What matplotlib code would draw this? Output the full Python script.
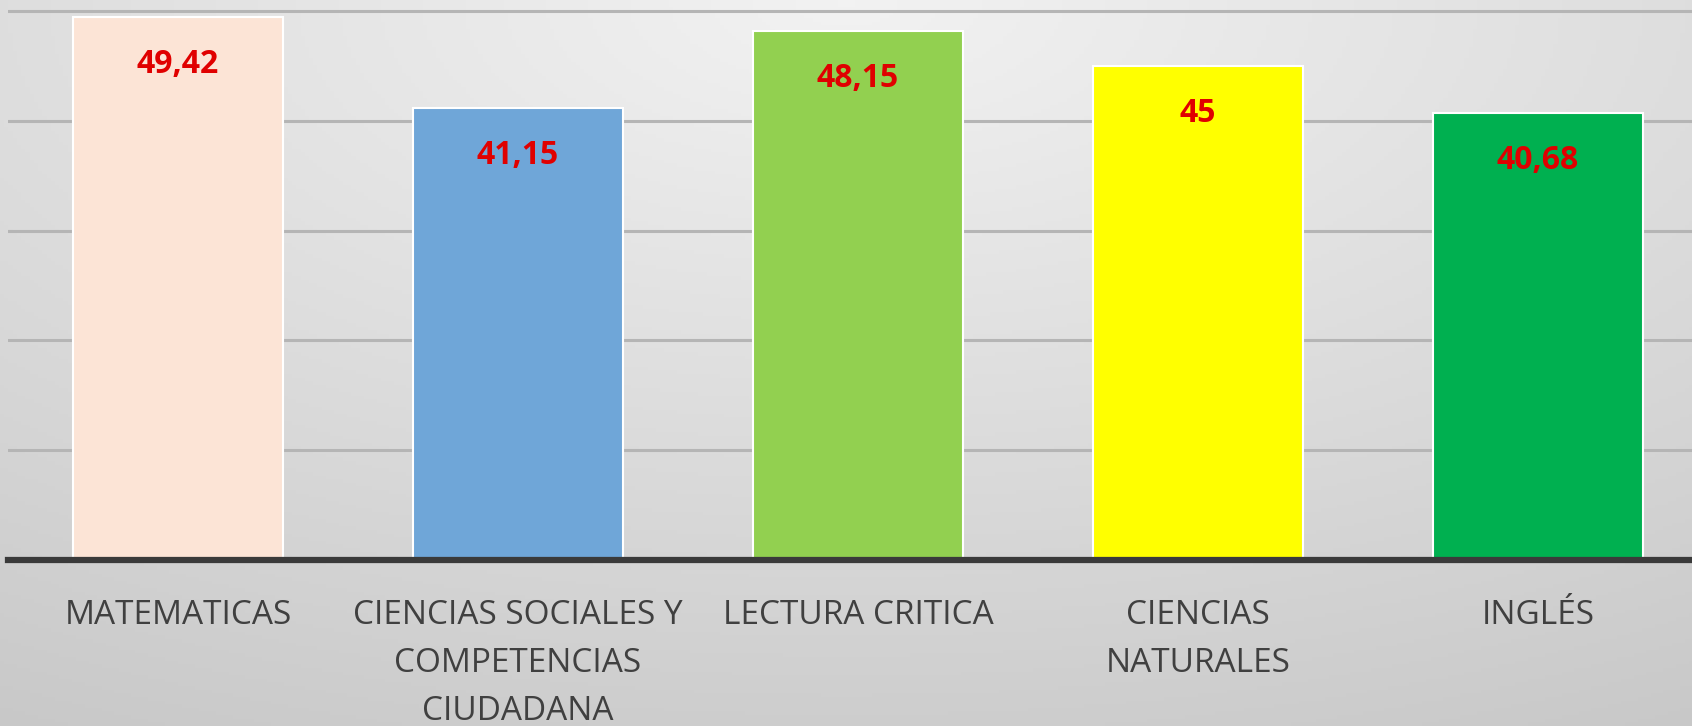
import numpy as np
import matplotlib.pyplot as plt
from matplotlib import font_manager

categorias = ["MATEMATICAS", "CIENCIAS SOCIALES Y\nCOMPETENCIAS\nCIUDADANA",
              "LECTURA CRITICA", "CIENCIAS\nNATURALES", "INGLÉS"]
puntajes = [49.42, 41.15, 48.15, 45, 40.68]
etiquetas = ["49,42", "41,15", "48,15", "45", "40,68"]
colores = ["#fce4d6", "#6fa6d8", "#92d050", "#ffff00", "#00b050"]

names = {f.name for f in font_manager.fontManager.ttflist}
fam = "Liberation Sans Narrow" if "Liberation Sans Narrow" in names else "Open Sans"
plt.rcParams['font.family'] = [fam, 'DejaVu Sans']

W, H = 1692, 726
fig = plt.figure(figsize=(W / 100, H / 100), dpi=100)

# gradient background
bg = fig.add_axes([0, 0, 1, 1])
yy, xx = np.mgrid[0:1:200j, 0:1:400j]
d = np.sqrt(((xx - 0.5) * 1.0) ** 2 + (yy * 0.9) ** 2)
g = 0.95 - 0.16 * d
bg.imshow(np.dstack([g, g, g]), extent=[0, 1, 0, 1], aspect='auto', origin='upper')
bg.axis('off')

ax = fig.add_axes([8 / W, 166 / H, 1700 / W, 560 / H])
ax.patch.set_alpha(0)
x = np.arange(len(categorias))
ax.bar(x, puntajes, width=0.62, color=colores, edgecolor='white', linewidth=1.5, zorder=3)
ax.set_xlim(-0.5, len(categorias) - 0.5)
ax.set_ylim(0, 51)
ax.set_yticks([10, 20, 30, 40, 50])
ax.yaxis.grid(True, color='#b5b5b5', linewidth=2.2, zorder=0)
ax.set_axisbelow(True)
ax.tick_params(axis='y', left=False, labelleft=False)
ax.set_xticks(x)
ax.set_xticklabels(categorias, fontsize=24, color='#404040', linespacing=1.6)
ax.tick_params(axis='x', length=0, pad=28)
for s in ['top', 'right', 'left']:
    ax.spines[s].set_visible(False)
ax.spines['bottom'].set_color('#3a3a3a')
ax.spines['bottom'].set_linewidth(4.5)
ax.spines['bottom'].set_zorder(4)

for xi, v, t in zip(x, puntajes, etiquetas):
    ax.annotate(t, (xi, v), xytext=(0, -34), textcoords='offset points',
                ha='center', va='center', fontsize=23, fontweight='bold',
                color='#e00000', zorder=5)

fig.savefig('out.png', dpi=100)
